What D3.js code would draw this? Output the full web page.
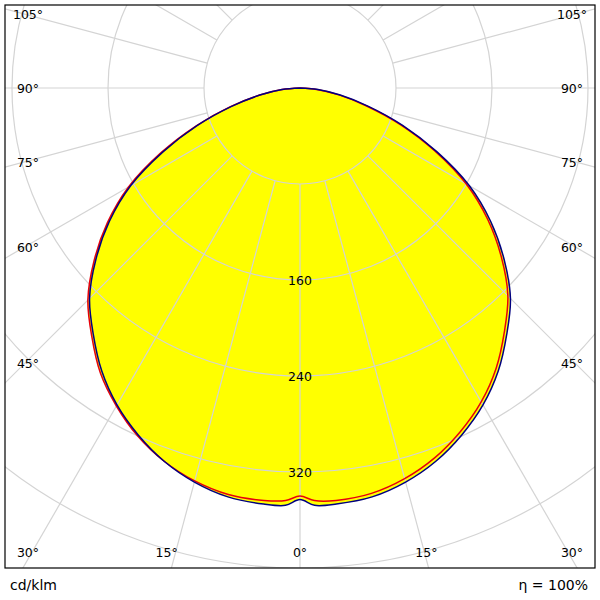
<!DOCTYPE html>
<html><head><meta charset="utf-8">
<script src="https://cdn.jsdelivr.net/npm/d3@7"></script>
<style>body{margin:0;background:#fff}</style></head>
<body><svg id="c" width="600" height="600"></svg>
<script>
const anglesDeg = [0,2,5,10,15,20,25,30,35,40,45,50,55,60,65,70,75,80,85,90];
const blueC90 = [343,348,348,346,340,331,319,305,288,268,248,222,194,163,126,91,59,34,15,0];
const redRight = [340,344,345,343,337,328,316,302,285,265,245,219,191,160,124,89,57,33,14,0];
const redLeft = [340,344,345,344,339,331,320,306,290,270,250,224,196,165,128,92,60,34,15,0];
const ringValues = [80,160,240,320,400,480];
const ringLabels = ["160","240","320"];
const spokeDeg = d3.range(0,360,15);
const sideLabels = [105,90,75,60,45];
const bottomLabels = [30,15,0,15,30];

const svg = d3.select("#c");
const cx=300, cy=88;
const r = d3.scaleLinear().domain([0,400]).range([0,480]);
const font="DejaVu Sans, sans-serif";
const defs=svg.append("defs");
defs.append("clipPath").attr("id","fr").append("rect").attr("x",5).attr("y",5).attr("width",590).attr("height",563);
const g=svg.append("g").attr("clip-path","url(#fr)");
function pt(deg,v){const a=deg*Math.PI/180;return [cx+r(v)*Math.sin(a), cy+r(v)*Math.cos(a)];}
function curve(left,right){
  const pts=[];
  for(let i=left.length-1;i>=0;i--) pts.push(pt(-anglesDeg[i],left[i]));
  for(let i=1;i<right.length;i++) pts.push(pt(anglesDeg[i],right[i]));
  return d3.line().curve(d3.curveCatmullRom.alpha(0.5))(pts);
}
const blue=curve(blueC90,blueC90), red=curve(redLeft,redRight);
g.append("path").attr("d",blue).attr("fill","#ffff00");
g.append("path").attr("d",red).attr("fill","#ffff00");
const grid=g.append("g").attr("stroke","#d4d4d4").attr("fill","none").attr("stroke-width",1.2);
ringValues.forEach(v=>grid.append("circle").attr("cx",cx).attr("cy",cy).attr("r",r(v)));
spokeDeg.forEach(d=>{const a=pt(d,80),b=pt(d,700);grid.append("line").attr("x1",a[0]).attr("y1",a[1]).attr("x2",b[0]).attr("y2",b[1]);});
g.append("path").attr("d",red).attr("fill","none").attr("stroke","#e8000b").attr("stroke-width",1.5);
g.append("path").attr("d",blue).attr("fill","none").attr("stroke","#000080").attr("stroke-width",1.5);
ringLabels.forEach(t=>svg.append("text").attr("x",cx).attr("y",cy+r(+t)+5).attr("text-anchor","middle").attr("font-family",font).attr("font-size",12.5).text(t));
sideLabels.forEach(d=>{const y=cy+275/Math.tan(d*Math.PI/180)+5;
  svg.append("text").attr("x",28).attr("y",y).attr("text-anchor","middle").attr("font-family",font).attr("font-size",12.5).text(d+"°");
  svg.append("text").attr("x",572).attr("y",y).attr("text-anchor","middle").attr("font-family",font).attr("font-size",12.5).text(d+"°");});
bottomLabels.forEach((d,i)=>{const s=i<2?-1:1;const x=i===0?28:i===4?572:cx+s*464*Math.tan(d*Math.PI/180)-(i===1?9:i===3?-2:0);
  svg.append("text").attr("x",x).attr("y",557).attr("text-anchor","middle").attr("font-family",font).attr("font-size",12.5).text(d+"°");});
svg.append("rect").attr("x",5).attr("y",5).attr("width",590).attr("height",563).attr("fill","none").attr("stroke","#000").attr("stroke-width",1.2);
svg.append("text").attr("x",10).attr("y",590).attr("font-family",font).attr("font-size",14).text("cd/klm");
svg.append("text").attr("x",588).attr("y",590).attr("text-anchor","end").attr("font-family",font).attr("font-size",14).text("η = 100%");
</script></body></html>
